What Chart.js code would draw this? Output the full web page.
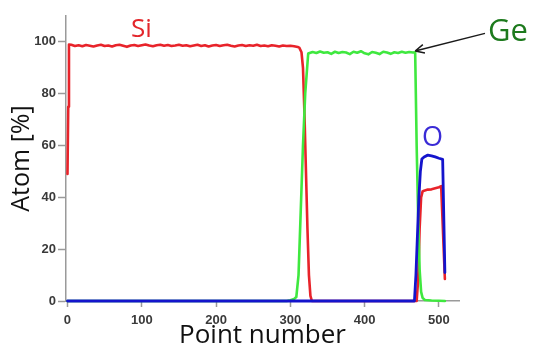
<!DOCTYPE html>
<html>
<head>
<meta charset="utf-8">
<script src="https://cdn.jsdelivr.net/npm/chart.js@4.4.0/dist/chart.umd.min.js"></script>
<style>
  html, body { margin: 0; padding: 0; background: #ffffff; }
  #wrap { width: 534px; height: 351px; position: relative; }
</style>
</head>
<body>
<div id="wrap"><canvas id="c" width="534" height="351"></canvas></div>
<script>
// ---- data ----
const xTicks = [0, 100, 200, 300, 400, 500];
const yTicks = [0, 20, 40, 60, 80, 100];

const siX = [0, 1, 2, 5, 10, 15, 20, 25, 30, 35, 40, 45, 50, 55, 60, 65, 70, 75, 80, 85, 90, 95, 100,
  105, 110, 115, 120, 125, 130, 135, 140, 145, 150, 155, 160, 165, 170, 175, 180, 185, 190, 195, 200,
  205, 210, 215, 220, 225, 230, 235, 240, 245, 250, 255, 260, 265, 270, 275, 280, 285, 290, 295, 300,
  305, 310, 312, 315, 317, 319, 321, 323, 325, 327, 329, 470, 472, 474, 476, 478, 480, 485, 490, 495,
  500, 503, 508];
const siY = [49, 75, 99, 98.9, 98.4, 98.7, 98.3, 98.8, 98.5, 98.2, 98.6, 98.9, 98.4, 98.6, 98.2, 98.7, 98.9, 98.5, 98.1, 98.6, 98.8, 98.4, 98.7,
  99.0, 98.6, 98.3, 98.7, 98.9, 98.5, 98.8, 98.4, 98.6, 98.9, 98.5, 98.7, 98.3, 98.6, 98.9, 98.4, 98.7, 98.2, 98.6, 98.8,
  98.4, 98.7, 98.9, 98.5, 98.2, 98.6, 98.8, 98.4, 98.7, 98.5, 98.9, 98.4, 98.6, 98.3, 98.7, 98.5, 98.2, 98.6, 98.4, 98.5,
  98.3, 98.0, 97.8, 96, 90, 72, 50, 28, 10, 2, 0, 0, 8, 28, 40, 42.3, 42.6, 43.0, 43.1, 43.5,
  43.9, 44.3, 8.5];

const geX = [0, 295, 300, 305, 308, 311, 314, 317, 320, 324, 330, 335, 340, 345, 350, 355, 360, 365, 370,
  375, 380, 385, 390, 395, 400, 405, 410, 415, 420, 425, 430, 435, 440, 445, 450, 455, 460, 465, 468,
  470, 472, 474, 476, 478, 481, 490, 500, 508];
const geY = [0, 0, 0.3, 0.8, 1.5, 10, 35, 60, 80, 95.5, 96.1, 95.7, 96.3, 95.8, 96.0, 95.4, 96.2, 95.7, 96.1,
  95.9, 95.3, 96.2, 95.8, 96.4, 95.6, 95.2, 96.1, 95.8, 95.3, 96.2, 95.9, 95.4, 96.0, 95.7, 96.2, 95.8, 96.1, 95.9, 96.0,
  60, 33, 12, 3.5, 1.2, 0.4, 0.2, 0.1, 0];

const oX = [0, 467, 469, 471, 473, 475, 477, 480, 485, 490, 495, 500, 505, 508];
const oY = [0, 0, 10, 25, 40, 50, 54.8, 55.6, 56.3, 56.0, 55.6, 55.1, 54.7, 11];

const toPts = (xs, ys) => xs.map((x, i) => ({ x: x, y: ys[i] }));

// ---- text annotations (positioned in data units) ----
const labels = [
  { text: 'Si', x: 99.5, y: 101.8, color: '#e3262b', size: 26, align: 'center' },
  { text: 'Ge', x: 566, y: 100.4, color: '#1d7a1d', size: 31, align: 'left' },
  { text: 'O', x: 491.4, y: 59.7, color: '#3a2bd6', size: 27, align: 'center' }
];
const arrow = { fromX: 562, fromY: 103.3, toX: 468, toY: 96.5 };

const annotate = {
  id: 'annotate',
  afterDatasetsDraw(chart) {
    const ctx = chart.ctx;
    const xs = chart.scales.x, ys = chart.scales.y;
    ctx.save();
    labels.forEach(l => {
      ctx.font = l.size + 'px "Open Sans"';
      ctx.fillStyle = l.color;
      ctx.textAlign = l.align;
      ctx.textBaseline = 'alphabetic';
      ctx.fillText(l.text, xs.getPixelForValue(l.x), ys.getPixelForValue(l.y));
    });
    const x1 = xs.getPixelForValue(arrow.fromX), y1 = ys.getPixelForValue(arrow.fromY);
    const x2 = xs.getPixelForValue(arrow.toX), y2 = ys.getPixelForValue(arrow.toY);
    const a = Math.atan2(y2 - y1, x2 - x1);
    ctx.strokeStyle = '#1a1a1a';
    ctx.lineWidth = 1.5;
    ctx.beginPath();
    ctx.moveTo(x1, y1);
    ctx.lineTo(x2, y2);
    ctx.moveTo(x2, y2);
    ctx.lineTo(x2 - 10 * Math.cos(a - 0.45), y2 - 10 * Math.sin(a - 0.45));
    ctx.moveTo(x2, y2);
    ctx.lineTo(x2 - 10 * Math.cos(a + 0.45), y2 - 10 * Math.sin(a + 0.45));
    ctx.stroke();
    ctx.restore();
  }
};

const tickFont = { family: '"Liberation Sans", Arial, sans-serif', size: 13, weight: 'bold' };

new Chart(document.getElementById('c'), {
  type: 'line',
  data: {
    datasets: [
      { label: 'O', data: toPts(oX, oY), borderColor: '#1414cc', borderWidth: 2.8, clip: false },
      { label: 'Ge', data: toPts(geX, geY), borderColor: '#3fe83f', borderWidth: 2.6, clip: false },
      { label: 'Si', data: toPts(siX, siY), borderColor: '#e8232a', borderWidth: 2.6, clip: false }
    ]
  },
  options: {
    responsive: false,
    animation: false,
    devicePixelRatio: 1,
    elements: { point: { radius: 0 }, line: { tension: 0, borderJoinStyle: 'round', borderCapStyle: 'round' } },
    layout: { padding: { top: 16, right: 75, left: 0, bottom: 0 } },
    plugins: { legend: { display: false }, tooltip: { enabled: false } },
    scales: {
      x: {
        type: 'linear',
        min: -2,
        max: 527,
        afterFit: s => { s.height = 50; },
        afterBuildTicks: s => { s.ticks = xTicks.map(v => ({ value: v })); },
        border: { color: '#9a9a9a', width: 1.5 },
        grid: { drawOnChartArea: false, drawTicks: true, tickLength: 6, color: '#9a9a9a', tickWidth: 1.5 },
        ticks: { color: '#3a3a3a', font: tickFont, padding: 6, maxRotation: 0 },
        title: { display: true, text: 'Point number', color: '#111', font: { family: '"Open Sans"', size: 26 }, padding: { top: 0, bottom: 0 } }
      },
      y: {
        type: 'linear',
        min: 0,
        max: 110,
        afterFit: s => { s.width = 66; },
        afterBuildTicks: s => { s.ticks = yTicks.map(v => ({ value: v })); },
        border: { color: '#9a9a9a', width: 1.5 },
        grid: { drawOnChartArea: false, drawTicks: true, tickLength: 8, color: '#9a9a9a', tickWidth: 1.5 },
        ticks: { color: '#3a3a3a', font: tickFont, padding: 2 },
        title: { display: true, text: 'Atom [%]', color: '#111', font: { family: '"Open Sans"', size: 25 }, padding: { top: 7, bottom: 0 } }
      }
    }
  },
  plugins: [annotate]
});
</script>
</body>
</html>
